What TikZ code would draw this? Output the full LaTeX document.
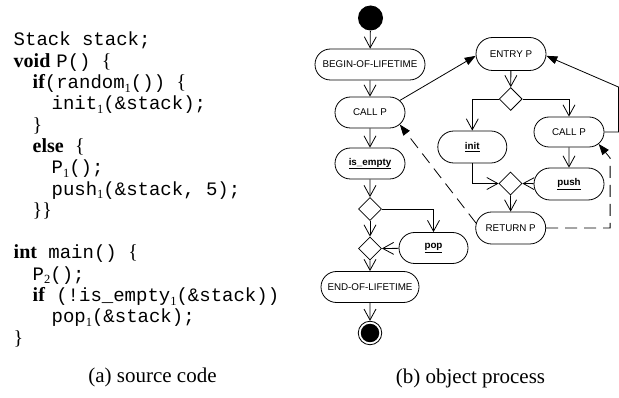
\documentclass[tikz,border=0pt]{standalone}
\usepackage{fontspec}
\setmainfont{Liberation Serif}
\setsansfont{Liberation Sans}
\setmonofont{Liberation Mono}
\usetikzlibrary{arrows.meta,shapes.geometric,shapes.misc}

% keywords and braces of the listing, and small index digits
\newcommand\kwd[1]{{\rmfamily\bfseries\fontsize{20}{20}\selectfont #1}}
\newcommand\brc[1]{{\rmfamily\fontsize{20}{20}\selectfont #1}}
\newcommand\idx[1]{\raisebox{-3.5pt}{\rmfamily\fontsize{12.5}{12.5}\selectfont #1}}
\newcommand\op[1]{\underline{\textbf{#1}}}

\begin{document}
\begin{tikzpicture}[x=1pt,y=-1pt,line width=0.8pt,
  codeline/.style={anchor=base west, inner sep=0pt, font=\ttfamily\fontsize{19}{19}\selectfont},
  caption/.style={anchor=base, inner sep=0pt, font=\rmfamily\fontsize{21}{21}\selectfont},
  activity/.style={draw, rounded rectangle, minimum height=31pt, minimum width=70pt,
    inner sep=0pt, font=\sffamily\fontsize{9.8}{11}\selectfont},
  choice/.style={draw, diamond, minimum width=23pt, minimum height=23pt, inner sep=0pt},
  flow/.style={-{Straight Barb[length=11pt,width=12pt]}},
  call/.style={-{Triangle[length=11pt,width=8pt]}},
  back/.style={call, dash pattern=on 12pt off 7pt}]
\useasboundingbox (0,0) rectangle (619,398);

% ---- (a) source code ----
\node[codeline] (c1)  at (13.3,46)    {Stack stack;};
\node[codeline] (c2)  at (13.3,67.3)  {\kwd{void}\hspace{6pt}P()\ \brc{\{}};
\node[codeline] (c3)  at (32.3,88.6)  {\kwd{if}(random\idx{1}())\ \brc{\{}};
\node[codeline] (c4)  at (51.2,110)   {init\idx{1}(\&stack);};
\node[codeline] (c5)  at (32.3,131.2) {\brc{\}}};
\node[codeline] (c6)  at (32.3,152.5) {\kwd{else}\ \brc{\{}};
\node[codeline] (c7)  at (51.2,173.8) {P\idx{1}();};
\node[codeline] (c8)  at (51.2,195.1) {push\idx{1}(\&stack, 5);};
\node[codeline] (c9)  at (32.3,216.4) {\brc{\}\}}};
\node[codeline] (c10) at (13.3,259)   {\kwd{int}\ main()\ \brc{\{}};
\node[codeline] (c11) at (32.3,280.3) {P\idx{2}();};
\node[codeline] (c12) at (32.3,301.6) {\kwd{if}\ (!is\_empty\idx{1}(\&stack))};
\node[codeline] (c13) at (51.2,322.9) {pop\idx{1}(\&stack);};
\node[codeline] (c14) at (13.3,344.2) {\brc{\}}};
\node[caption] (capa) at (152.5,382) {(a) source code};

% ---- (b) object process: main lifeline ----
\node[circle, fill=black, minimum size=25pt, inner sep=0pt] (start) at (370.5,18) {};
\node[activity, minimum width=110pt] (begin) at (370,64.5) {BEGIN-OF-LIFETIME};
\node[activity] (callL) at (370,112.5) {CALL P};
\node[activity] (isempty) at (370,163.5) {\op{is\_empty}};
\node[choice] (d1) at (370,209) {};
\node[choice] (d2) at (370,248.5) {};
\node[activity, minimum width=69pt] (pop) at (433.5,248) {\op{pop}};
\node[activity, minimum width=98pt] (end) at (370,287) {END-OF-LIFETIME};
\node[circle, draw, minimum size=23.5pt, inner sep=0pt] (final) at (370,333) {};
\node[circle, fill=black, minimum size=18.5pt, inner sep=0pt] (finaldot) at (final) {};

% ---- procedure P ----
\node[activity, minimum height=33pt] (entry) at (511,54) {ENTRY P};
\node[choice] (d3) at (510.7,99) {};
\node[activity, minimum width=69pt, minimum height=32pt] (init) at (472.3,147) {\op{init}};
\node[activity, minimum height=30pt] (callR) at (569,132) {CALL P};
\node[choice] (d4) at (510.5,183.5) {};
\node[activity, minimum height=32pt] (push) at (569,184) {\op{push}};
\node[activity, minimum height=32pt] (ret) at (510.7,228) {RETURN P};
\node[caption] (capb) at (470.5,383) {(b) object process};

% control flow
\draw[flow] (start) -- (begin);
\draw[flow] (begin) -- (callL);
\draw[flow] (callL) -- (isempty);
\draw[flow] (isempty) -- (d1);
\draw[flow] (d1) -- (d2);
\draw[flow] (d2) -- (end);
\draw[flow] (end) -- (final);
\draw[flow] (d1.east) -| (pop.north);
\draw[flow] (pop) -- (d2.east);
\draw[flow] (entry) -- (d3);
\draw[flow] (d3.west) -| (init.north);
\draw[flow] (d3.east) -| (callR.north);
\draw[flow] (init.south) |- (d4.west);
\draw[flow] (callR) -- (push);
\draw[flow] (push) -- (d4.east);
\draw[flow] (d4) -- (ret);

% calls and returns
\draw[call] (callL.22) -- (entry.183);
\draw[call] (callR.east) -- ++(14,0) -- ++(0,-45) -- (entry.357);
\draw[back] (ret.172) -- (callL.338);
\draw[back] (ret.east) -- ++(64,0) -- ++(0,-70) -- (callR.338);
\end{tikzpicture}
\end{document}
